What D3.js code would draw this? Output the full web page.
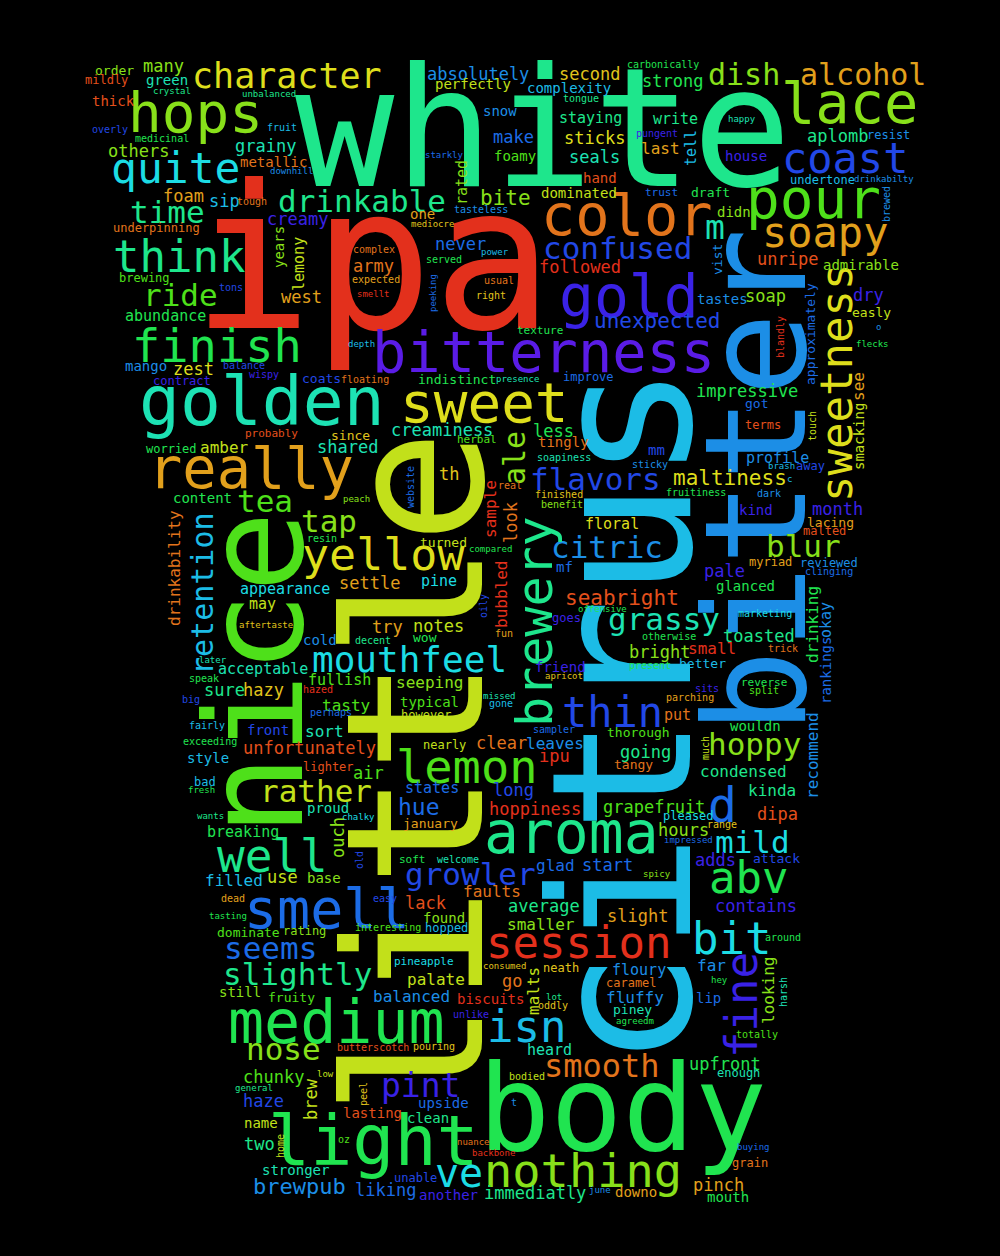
<!DOCTYPE html>
<html>
<head>
<meta charset="utf-8">
<script src="https://cdn.jsdelivr.net/npm/d3@7"></script>
<style>
    html, body { margin: 0; padding: 0; background: #000; }
    #cloud svg { display: block; }
</style>
</head>
<body>
<div id="cloud"></div>
<script>

//--- Daten: Woerter, Gewicht (Schriftgroesse), Lage aus dem Layout, Drehung, Farbe -------------------- //

var words = [
    'white','ipa','little','citrus','body','bitter','nice','bitterness','golden','really',
    'aroma','medium','light','smell','lemon','session','nothing','ve','isn','smooth',
    'pint','character','hops','quite','think','ride','time','finish','drinkable','color',
    'gold','confused','unexpected','lace','pour','coast','soapy','dish','alcohol','sweet',
    'sweetness','yellow','mouthfeel','rather','well','growler','seems','slightly','nose','bit',
    'fine','abv','mild','hoppy','thin','flavors','citric','seabright','grassy','blur',
    'brewery','maltiness','tea','tap','retention','d',
    'order','many','mildly','green','crystal','unbalanced','thick','fruit','overly','medicinal',
    'others','grainy','metallic','downhill','foam','sip','tough','creamy','underpinning','years',
    'lemony','brewing','tons','west','abundance','complex','army','expected','smellt','depth',
    'absolutely','second','carbonically','perfectly','complexity','strong','tongue','snow','staying','make',
    'sticks','last','starkly','foamy','seals','hand','rated','dominated','bite','one',
    'tasteless','mediocre','never','power','served','followed','usual','peeking','right','texture',
    'write','happy','pungent','aplomb','resist','tell','house','trust','undertone','drinkabilty',
    'draft','brewed','m','didn','unripe','vist','admirable','tastes','soap','dry',
    'approximately','easly','o','blandly','flecks','impressive','see','got','smacking','touch',
    'terms','mm','profile','sticky','brash','away','c','fruitiness','dark','kind',
    'month','lacing','malted','myriad','reviewed','clinging','pale','glanced','drinking','okay',
    'marketing','otherwise','toasted','indistinct','presence','improve','creaminess','ale','less','tingly',
    'herbal','soapiness','th','website','real','finished','benefit','sample','look','turned',
    'compared','floral','mf','pine','bubbled','oily','offensive','goes','notes','try',
    'wow','fun','mango','zest','balance','contract','wispy','coats','floating','probably',
    'since','worried','amber','shared','content','peach','drinkability','resin','settle','appearance',
    'may','aftertaste','cold','decent','later','acceptable','speak','fullish','sure','hazy',
    'hazed','big','seeping','tasty','perhaps','typical','however','fairly','front','sort',
    'exceeding','unfortunately','nearly','style','lighter','air','bad','fresh','states','hue',
    'proud','wants','chalky','january','breaking','ouch','old','soft','filled','use',
    'base','dead','easy','lack','tasting','found','interesting','hopped','dominate','rating',
    'friend','apricot','bright','small','present','better','missed','gone','sits','parching',
    'put','sampler','thorough','clear','leaves','much','going','ipu','tangy','condensed',
    'long','hoppiness','grapefruit','kinda','recommend','rankings','pleased','range','hours','impressed',
    'dipa','adds','attack','contains','welcome','glad','start','spicy','faults','average',
    'slight','smaller','trick','reverse','split','wouldn','around','far','looking','harsh',
    'hey','lip','totally','upfront','enough','buying','grain','pinch','mouth','consumed',
    'neath','go','malts','floury','caramel','fluffy','biscuits','lot','oddly','piney',
    'unlike','agreedm','heard','bodied','upside','t','nuance','backbone','immediatly','june',
    'downo','another','pineapple','palate','still','fruity','balanced','butterscotch','pouring','chunky',
    'low','general','brew','peel','haze','lasting','clean','name','two','home',
    'oz','stronger','brewpub','liking','unable'
];

var sizes = [
    165,200,190,195,120,140,135,57,68,57,
    58,60,70,55,47,44,47,40,44,32,
    33,35,56,43,44,31,31,47,31,57,
    58,31,21,57,56,42,42,30,30,56,
    44,45,36,31,46,31,31,31,31,44,
    44,44,31,31,42,31,31,21,31,31,
    50,21,31,31,30,48,
    13,17,12,14,9,9,14,10,10,10,
    17,17,14,9,17,17,10,17,12,14,
    15,12,10,17,15,10,17,10,9,9,
    17,17,10,14,14,17,10,14,15,17,
    17,16,9,14,17,14,15,14,21,14,
    10,9,17,9,10,17,10,9,10,11,
    15,9,10,17,12,15,14,11,12,9,
    13,10,33,14,17,13,14,14,17,17,
    13,13,9,10,9,17,16,13,14,10,
    12,14,15,10,9,12,9,10,10,14,
    17,13,12,12,12,10,17,14,16,15,
    10,10,17,13,9,12,17,30,17,14,
    11,10,17,10,10,10,10,16,17,13,
    9,15,14,15,16,10,9,12,17,17,
    13,10,14,17,10,12,10,13,10,11,
    13,12,16,17,14,9,16,10,17,15,
    15,9,14,10,9,15,10,15,17,17,
    10,10,16,16,10,14,12,10,14,16,
    10,17,12,14,12,17,12,9,15,23,
    14,9,9,13,15,17,10,11,16,17,
    14,10,10,17,9,14,10,12,13,12,
    14,9,17,16,10,13,9,10,10,10,
    15,10,13,17,16,10,17,17,13,16,
    17,17,17,16,16,14,12,10,17,9,
    17,17,13,17,10,16,17,9,16,17,
    17,16,10,11,10,14,10,16,16,10,
    9,14,10,17,12,9,12,17,14,9,
    12,17,16,15,12,16,14,9,10,13,
    10,9,15,10,14,10,9,9,17,9,
    14,14,11,16,14,13,16,10,10,17,
    9,9,17,10,17,14,14,14,17,10,
    10,14,22,17,12
];

// Lage jedes Wortes im Layout (waagerecht: Anfang/Grundlinie, senkrecht: Grundlinie/unteres Ende)
var posX = [
    295,192,482,690,478,805,302,372,139,148,
    484,228,268,244,396,486,484,435,487,544,
    381,192,128,111,113,143,130,132,278,541,
    559,543,594,781,746,782,762,708,800,400,
    852,302,312,260,217,405,224,223,246,692,
    757,709,715,708,562,530,551,565,608,766,
    552,673,237,301,213,708,
    95,143,85,146,153,242,92,267,92,135,
    108,235,240,270,163,209,237,267,113,284,
    304,119,219,281,125,353,353,352,357,348,
    427,559,627,435,527,642,563,483,559,493,
    564,641,425,494,569,583,467,541,480,410,
    454,411,435,481,426,539,484,436,476,517,
    653,728,636,807,867,696,725,645,790,854,
    691,890,705,717,757,722,823,697,745,853,
    815,852,876,784,856,696,864,745,864,816,
    745,648,746,632,768,796,787,666,757,739,
    812,807,803,749,800,805,704,716,818,831,
    738,642,723,418,496,563,391,525,533,538,
    457,537,439,414,498,535,541,496,517,420,
    469,585,556,421,507,487,578,552,413,372,
    413,495,125,173,223,153,249,302,341,245,
    331,146,200,317,173,343,180,307,339,240,
    249,239,303,355,199,218,189,308,204,243,
    303,182,396,322,310,400,401,189,247,305,
    183,243,423,187,303,353,194,188,405,398,
    307,197,342,403,207,344,363,399,205,267,
    307,221,373,405,209,423,355,425,217,283,
    535,545,629,688,629,679,483,489,695,666,
    664,533,607,476,526,709,620,539,614,700,
    493,489,603,748,818,831,663,707,658,664,
    757,695,753,715,437,536,582,643,463,508,
    607,507,768,741,749,730,765,697,774,787,
    711,696,736,689,717,737,732,693,707,483,
    543,502,539,612,606,606,457,546,538,613,
    453,616,527,509,418,511,457,472,484,589,
    615,419,394,407,219,268,373,337,413,243,
    317,235,317,367,243,343,407,244,244,284,
    338,262,253,355,394
];

var posY = [
    186,328,1116,1068,1150,734,836,372,425,488,
    853,1043,1165,928,783,958,1187,1187,1042,1077,
    1097,88,132,183,272,306,223,362,212,235,
    317,259,328,123,218,173,247,85,85,422,
    502,570,672,802,872,885,959,985,1060,954,
    1058,893,853,755,727,490,558,605,630,557,
    727,485,512,532,675,822,
    75,72,84,85,94,97,106,131,133,142,
    157,152,167,174,202,207,205,225,232,268,
    291,282,291,303,321,253,272,283,297,347,
    80,80,68,89,93,87,102,116,123,143,
    144,154,158,161,163,183,205,198,205,219,
    213,227,250,255,263,273,284,312,299,334,
    124,122,137,142,139,166,161,196,184,182,
    197,222,239,217,265,275,270,304,302,301,
    385,317,330,358,347,397,401,408,470,441,
    429,455,463,468,469,470,482,496,497,515,
    515,527,535,566,567,575,577,591,663,638,
    617,640,642,384,382,381,436,485,437,447,
    443,461,480,508,489,498,508,538,543,547,
    552,529,572,586,628,618,612,622,632,633,
    642,637,371,375,369,385,378,383,383,437,
    440,453,453,453,503,502,626,542,589,594,
    609,628,645,644,663,674,682,685,696,696,
    693,703,688,711,716,707,719,729,735,737,
    745,754,749,763,771,779,786,793,793,815,
    813,819,820,828,837,858,869,863,886,883,
    883,902,902,909,919,923,931,932,937,935,
    672,679,658,654,669,668,699,707,692,701,
    720,733,737,749,749,760,758,762,769,777,
    796,815,813,796,799,704,820,828,836,843,
    820,866,863,912,863,871,871,877,897,912,
    922,930,652,686,694,731,941,971,1024,1007,
    983,1003,1038,1070,1077,1150,1167,1191,1202,969,
    972,987,1015,975,987,1003,1004,1000,1009,1014,
    1018,1024,1055,1080,1108,1106,1145,1156,1199,1193,
    1197,1200,965,985,997,1002,1002,1051,1050,1083,
    1077,1091,1120,1106,1107,1118,1123,1128,1150,1158,
    1143,1175,1194,1196,1182
];

// 1 = senkrecht (von unten nach oben gelesen)
var turned = [
    0,0,1,1,0,1,1,0,0,0,
    0,0,0,0,0,0,0,0,0,0,
    0,0,0,0,0,0,0,0,0,0,
    0,0,0,0,0,0,0,0,0,0,
    1,0,0,0,0,0,0,0,0,0,
    1,0,0,0,0,0,0,0,0,0,
    1,0,0,0,1,0,
    0,0,0,0,0,0,0,0,0,0,
    0,0,0,0,0,0,0,0,0,1,
    1,0,0,0,0,0,0,0,0,0,
    0,0,0,0,0,0,0,0,0,0,
    0,0,0,0,0,0,1,0,0,0,
    0,0,0,0,0,0,0,1,0,0,
    0,0,0,0,0,1,0,0,0,0,
    0,1,0,0,0,1,0,0,0,0,
    1,0,0,1,0,0,1,0,1,1,
    0,0,0,0,0,0,0,0,0,0,
    0,0,0,0,0,0,0,0,1,1,
    0,0,0,0,0,0,0,1,0,0,
    0,0,0,1,0,0,0,1,1,0,
    0,0,0,0,1,1,0,0,0,0,
    0,0,0,0,0,0,0,0,0,0,
    0,0,0,0,0,0,1,0,0,0,
    0,0,0,0,0,0,0,0,0,0,
    0,0,0,0,0,0,0,0,0,0,
    0,0,0,0,0,0,0,0,0,0,
    0,0,0,0,0,1,1,0,0,0,
    0,0,0,0,0,0,0,0,0,0,
    0,0,0,0,0,0,0,0,0,0,
    0,0,0,0,0,1,0,0,0,0,
    0,0,0,0,1,1,0,0,0,0,
    0,0,0,0,0,0,0,0,0,0,
    0,0,0,0,0,0,0,0,1,1,
    0,0,0,0,0,0,0,0,0,0,
    0,0,1,0,0,0,0,0,0,0,
    0,0,0,0,0,0,0,0,0,0,
    0,0,0,0,0,0,0,0,0,0,
    0,0,1,1,0,0,0,0,0,1,
    0,0,0,0,0
];

// Farbindex je Wort
var tint = [
    10,0,6,13,9,14,8,18,11,3,
    10,9,9,15,8,0,7,12,13,2,
    17,5,7,12,10,8,10,9,10,2,
    17,16,16,7,8,16,3,7,3,5,
    5,5,12,6,10,16,15,10,7,12,
    17,9,12,7,16,16,14,1,11,7,
    10,5,8,7,13,15,
    7,7,1,11,10,10,1,13,16,9,
    7,11,2,14,3,13,2,17,2,7,
    6,8,16,3,9,2,2,3,0,13,
    14,4,9,6,13,9,10,14,10,15,
    5,3,15,8,11,1,7,6,7,3,
    14,4,15,13,9,0,2,15,4,9,
    10,11,17,10,14,13,17,15,13,14,
    9,14,11,7,1,14,7,14,7,17,
    15,6,14,0,9,9,3,15,6,6,
    1,16,14,14,13,16,13,9,14,17,
    17,3,1,3,14,15,17,9,9,14,
    12,9,10,9,11,15,11,7,9,2,
    8,11,4,15,2,4,7,0,2,6,
    9,5,15,12,0,16,9,17,6,3,
    9,3,14,5,16,17,17,16,2,1,
    4,9,6,11,9,7,2,9,3,12,
    6,4,14,10,11,11,9,8,10,4,
    0,16,7,8,15,8,6,13,16,11,
    9,1,6,13,1,8,13,9,15,15,
    11,10,12,3,9,7,16,9,13,6,
    7,3,16,1,9,7,8,13,8,7,
    17,4,7,0,9,13,11,13,17,3,
    2,15,8,2,14,6,10,0,2,10,
    16,0,8,10,14,15,12,4,7,15,
    1,17,16,17,11,15,15,7,2,10,
    3,7,2,9,8,9,9,14,7,11,
    9,15,8,9,11,15,2,3,9,4,
    4,2,6,14,2,14,0,10,4,11,
    17,9,11,6,15,14,2,0,10,14,
    3,17,12,6,7,8,14,1,4,8,
    6,10,6,4,16,1,10,6,10,6,
    8,11,14,15,16
];

var palette = [
    '#e3301c','#e4501c','#e2741c','#e2a01c','#e0c41c','#dede1c','#c2e01a','#88e01a','#4ee01a','#20e450',
    '#1ee68c','#1de2b4','#1cdce4','#1cbce6','#1c8ee6','#1c6ce6','#2248e6','#3a22e6','#5a1ce6'
];


//--- Konfiguration -------------------------------------------------------------------------------------- //

var Conf = {
    SvgWidth: 1000,
    SvgHeight: 1256,
    Font: "'DejaVu Sans Mono', 'Liberation Mono', monospace",
    Background: '#000000'
};


//--- Wortwolke zeichnen ---------------------------------------------------------------------------------- //

function renderCloud(_d3id) {

    var svg = d3.select(_d3id).append('svg')
        .attr('width', Conf.SvgWidth)
        .attr('height', Conf.SvgHeight)
        .attr('viewBox', '0 0 ' + Conf.SvgWidth + ' ' + Conf.SvgHeight);

    svg.append('rect')
        .attr('width', Conf.SvgWidth)
        .attr('height', Conf.SvgHeight)
        .attr('fill', Conf.Background);

    var x = d3.scaleLinear().domain([0, 1000]).range([0, Conf.SvgWidth]);
    var y = d3.scaleLinear().domain([0, 1256]).range([0, Conf.SvgHeight]);
    var size = d3.scaleLinear().domain([0, 200]).range([0, 200]);
    var color = d3.scaleOrdinal().domain(d3.range(palette.length)).range(palette);

    var rows = d3.range(words.length).map(function (i) {
        return {
            text: words[i],
            size: sizes[i],
            x: posX[i],
            y: posY[i],
            turned: turned[i] === 1,
            tint: tint[i]
        };
    });

    svg.append('g')
        .attr('class', 'words')
        .selectAll('text')
        .data(rows)
        .join('text')
        .attr('transform', function (d) {
            return 'translate(' + x(d.x) + ',' + y(d.y) + ')' + (d.turned ? ' rotate(-90)' : '');
        })
        .attr('text-anchor', 'start')
        .attr('font-family', Conf.Font)
        .attr('font-size', function (d) { return size(d.size) + 'px'; })
        .attr('fill', function (d) { return color(d.tint); })
        .text(function (d) { return d.text; });
}


renderCloud('#cloud');

</script>
</body>
</html>
